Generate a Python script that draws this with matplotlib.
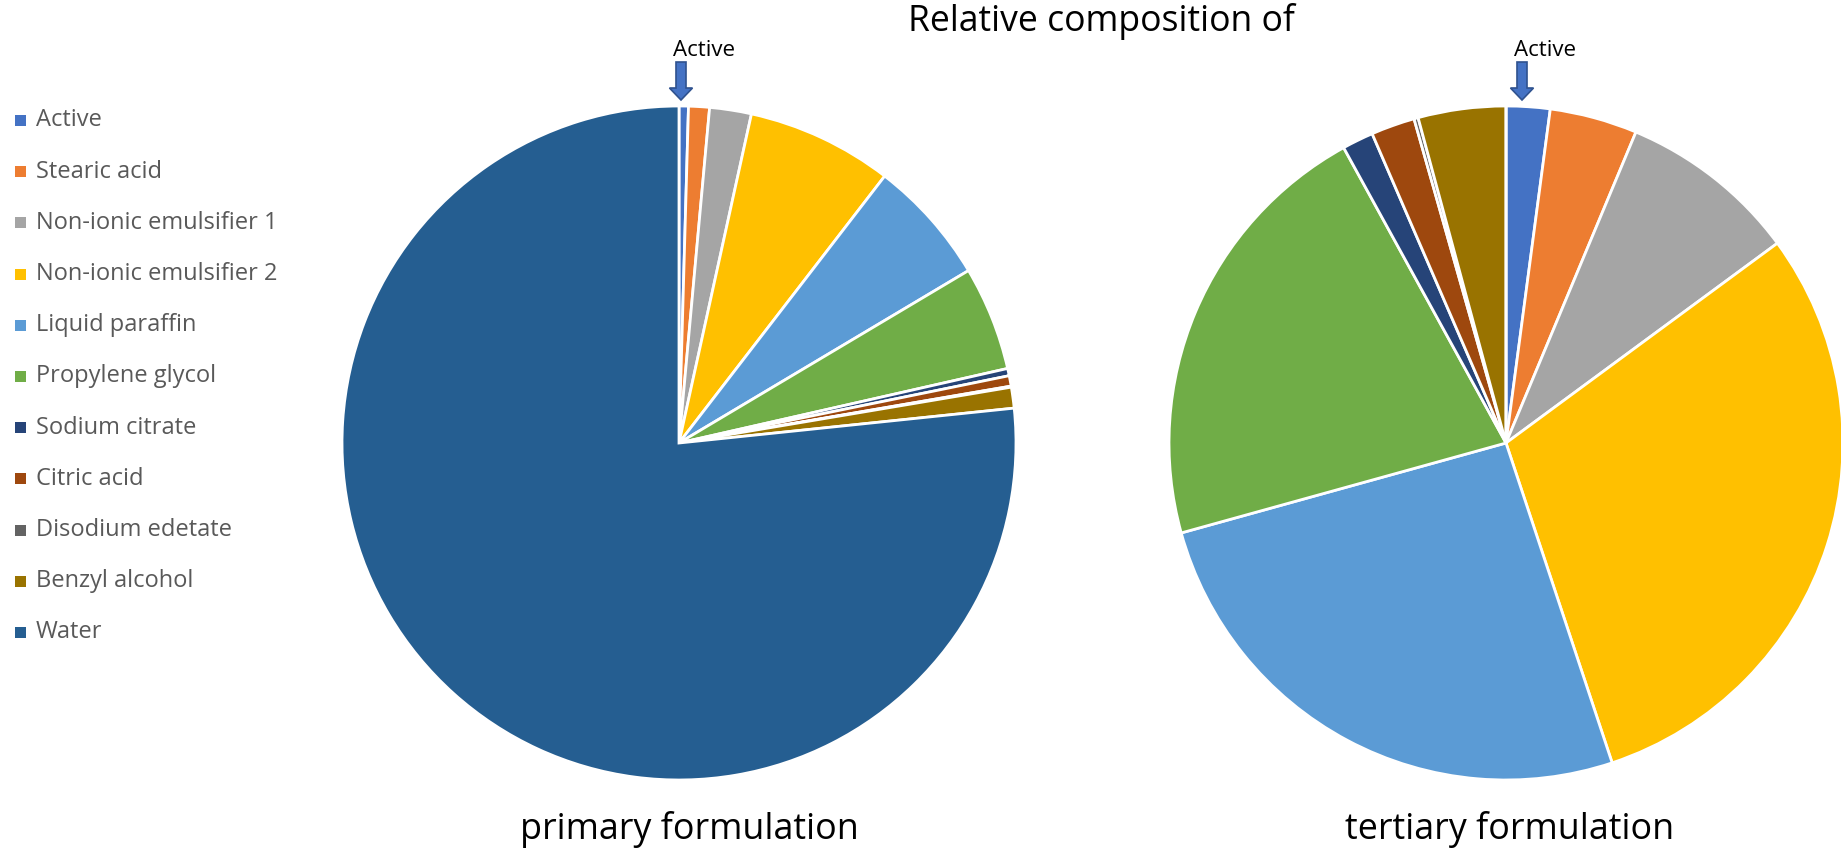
import matplotlib
matplotlib.use("Agg")
import matplotlib.pyplot as plt
from matplotlib.patches import Rectangle, Polygon

# ---- data ----
ingredients = ["Active", "Stearic acid", "Non-ionic emulsifier 1", "Non-ionic emulsifier 2",
               "Liquid paraffin", "Propylene glycol", "Sodium citrate", "Citric acid",
               "Disodium edetate", "Benzyl alcohol", "Water"]
primary_pct = [0.45, 1.0, 2.0, 7.0, 6.0, 5.0, 0.35, 0.5, 0.05, 1.0, 76.65]
tertiary_pct = [2.1, 4.2, 8.6, 30.0, 25.8, 21.3, 1.5, 2.1, 0.2, 4.2, 0.0]
colors = ["#4472C4", "#ED7D31", "#A5A5A5", "#FFC000", "#5B9BD5", "#70AD47",
          "#264478", "#9E480E", "#636363", "#997300", "#255E91"]
title_text = "Relative composition of"
pie_labels = ["primary formulation", "tertiary formulation"]
annot_text = "Active"

FONT = "Open Sans"
W, H = 1841, 851
fig = plt.figure(figsize=(W / 100, H / 100), dpi=100)
fig.patch.set_facecolor("white")

def add_pie(cx, cy, r, values):
    ax = fig.add_axes([(cx - r) / W, (H - cy - r) / H, 2 * r / W, 2 * r / H])
    ax.pie(values, colors=colors, startangle=90, counterclock=False, radius=1,
           wedgeprops=dict(edgecolor="white", linewidth=2.0))
    ax.set_xlim(-1, 1)
    ax.set_ylim(-1, 1)
    ax.set_aspect("equal")
    ax.axis("off")
    return ax

add_pie(679, 443, 337, primary_pct)
add_pie(1506, 443, 337, tertiary_pct)

# title and pie captions
fig.text(1101 / W, 1 - 22 / H, title_text, ha="center", va="center",
         fontsize=25.6, family=FONT, color="black")
fig.text(689 / W, 1 - 829 / H, pie_labels[0], ha="center", va="center",
         fontsize=25.8, family=FONT, color="black")
fig.text(1510 / W, 1 - 829 / H, pie_labels[1], ha="center", va="center",
         fontsize=25.8, family=FONT, color="black")

# legend (manual)
leg_y0, leg_dy = 120.5, 51.2
for i, (lab, col) in enumerate(zip(ingredients, colors)):
    y = leg_y0 + i * leg_dy
    fig.patches.append(Rectangle((15 / W, 1 - (y + 5.5) / H), 11 / W, 11 / H,
                                 transform=fig.transFigure, facecolor=col,
                                 edgecolor="none"))
    fig.text(36 / W, 1 - y / H, lab, ha="left", va="center", fontsize=17,
             family=FONT, color="#595959")

# "Active" annotations with block arrows
def block_arrow(xc, top, head_start, tip, shaft_hw, head_hw):
    pts = [(xc - shaft_hw, top), (xc + shaft_hw, top), (xc + shaft_hw, head_start),
           (xc + head_hw, head_start), (xc, tip), (xc - head_hw, head_start),
           (xc - shaft_hw, head_start)]
    pts = [(x / 100, (H - y) / 100) for x, y in pts]
    fig.patches.append(Polygon(pts, closed=True, transform=fig.dpi_scale_trans,
                               facecolor="#4472C4", edgecolor="#2F528F", linewidth=1.2))

for xc, tx in [(681, 704), (1522, 1545)]:
    block_arrow(xc, 62, 88, 100, 5, 11.5)
    fig.text(tx / W, 1 - 50 / H, annot_text, ha="center", va="center",
             fontsize=16, family=FONT, color="black")

fig.savefig("out.png", dpi=100, facecolor="white")
